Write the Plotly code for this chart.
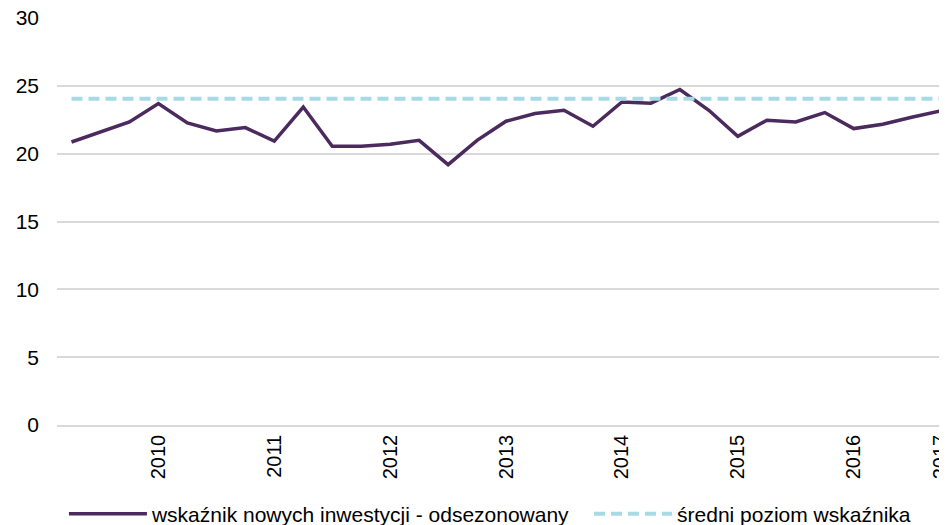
import plotly.graph_objects as go

quarters = list(range(31))
values = [20.86, 21.6, 22.34, 23.7, 22.26, 21.67, 21.92, 20.93, 23.44, 20.54,
          20.54, 20.69, 20.98, 19.19, 20.98, 22.39, 22.96, 23.2, 22.02, 23.81,
          23.72, 24.73, 23.2, 21.28, 22.46, 22.34, 23.03, 21.85, 22.17, 22.68, 23.15]
mean_level = [24.05] * len(quarters)
tick_pos = [3, 7, 11, 15, 19, 23, 27, 30]
tick_labels = ["2010", "2011", "2012", "2013", "2014", "2015", "2016", "2017"]

FONT = "Liberation Sans, Arial, sans-serif"

fig = go.Figure()
fig.add_trace(go.Scatter(
    x=quarters, y=values, mode="lines",
    name="wskaźnik nowych inwestycji - odsezonowany",
    line=dict(color="#4B2A5E", width=3.5), legend="legend",
))
fig.add_trace(go.Scatter(
    x=quarters, y=mean_level, mode="lines",
    name="średni poziom wskaźnika",
    line=dict(color="#A8DAE6", width=4, dash="11px,6px"), legend="legend2",
))

legend_common = dict(
    orientation="h", xanchor="left", y=-0.219, yanchor="middle",
    itemwidth=78, font=dict(size=21, family=FONT), bgcolor="rgba(0,0,0,0)",
)

# page body has an 8px default margin, so the figure is sized to fit the window
fig.update_layout(
    width=939, height=517,
    margin=dict(l=49, r=0, t=10, b=100, autoexpand=False),
    paper_bgcolor="white", plot_bgcolor="white",
    font=dict(family=FONT, size=21, color="#000000"),
    showlegend=True,
    legend=dict(x=0.0078, **legend_common),
    legend2=dict(x=0.5978, **legend_common),
    xaxis=dict(
        range=[-0.5, 30.22], tickmode="array", tickvals=tick_pos, ticktext=tick_labels,
        tickangle=-90, showgrid=False, zeroline=False, automargin=False,
        showline=True, linecolor="#D9D9D9", linewidth=1.5,
        ticks="", tickfont=dict(size=20, family=FONT), ticklabeloverflow="allow",
    ),
    yaxis=dict(
        range=[0, 30], tickvals=[0, 5, 10, 15, 20, 25, 30], automargin=False,
        showgrid=True, gridcolor="#D9D9D9", gridwidth=1.5,
        zeroline=False, showline=False, ticks="", ticklabeloverflow="allow",
        ticklabelstandoff=17, tickfont=dict(size=21, family=FONT),
    ),
)

fig.write_html("out.html")
